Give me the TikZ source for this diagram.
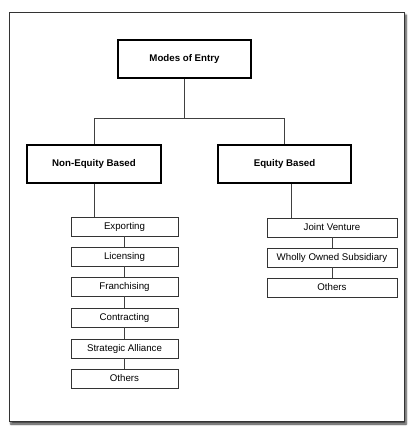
\documentclass[tikz,border=0pt]{standalone}
\usepackage{fontspec}
\setmainfont{Liberation Sans}
\usetikzlibrary{shadows.blur}
\begin{document}
\begin{tikzpicture}[x=1pt,y=1pt,
  mainbox/.style={draw=black,line width=1.6pt,fill=white,minimum width=133pt,minimum height=38pt,font=\fontsize{9.7}{11}\selectfont\bfseries,inner sep=0pt},
  leftitem/.style={draw=black!80,line width=0.8pt,fill=white,minimum width=107pt,minimum height=19pt,font=\fontsize{9.7}{11}\selectfont,inner sep=0pt},
  rightitem/.style={leftitem,minimum width=130pt},
  conn/.style={draw=black!75,line width=0.9pt}]
\useasboundingbox (0,0) rectangle (414,-430);
\node[draw=black!80,line width=0.9pt,fill=white,minimum width=395pt,minimum height=409pt,inner sep=0pt,
  blur shadow={shadow xshift=2pt,shadow yshift=-3pt,shadow blur steps=6,shadow opacity=80}] (frame) at (206.5,-216.5) {};
\node[mainbox] (top) at (184.5,-59) {Modes of Entry};
\node[mainbox,minimum width=134pt] (noneq) at (94,-164) {Non-Equity Based};
\node[mainbox] (eq) at (284.5,-164) {Equity Based};
\node[leftitem] (l1) at (124.5,-226.5) {Exporting};
\node[leftitem] (l2) at (124.5,-256.5) {Licensing};
\node[leftitem] (l3) at (124.5,-286.5) {Franchising};
\node[leftitem] (l4) at (124.5,-317.5) {Contracting};
\node[leftitem] (l5) at (124.5,-348.5) {Strategic Alliance};
\node[leftitem] (l6) at (124.5,-378.5) {Others};
\node[rightitem] (r1) at (332,-227.5) {Joint Venture};
\node[rightitem] (r2) at (332,-257.5) {Wholly Owned Subsidiary};
\node[rightitem] (r3) at (332,-287.5) {Others};
\coordinate (split) at (184.5,-118);
\draw[conn] (top.south) -- (split);
\draw[conn] (noneq.north) -- (noneq.north |- split) -| (eq.north);
\draw[conn] (noneq.south) -- (noneq.south |- l1.north);
\draw[conn] ([xshift=7pt]eq.south) -- ([xshift=7pt]eq.south |- r1.north);
\draw[conn] (l1) -- (l2);
\draw[conn] (l2) -- (l3);
\draw[conn] (l3) -- (l4);
\draw[conn] (l4) -- (l5);
\draw[conn] (l5) -- (l6);
\draw[conn] (r1) -- (r2);
\draw[conn] (r2) -- (r3);
\end{tikzpicture}
\end{document}
